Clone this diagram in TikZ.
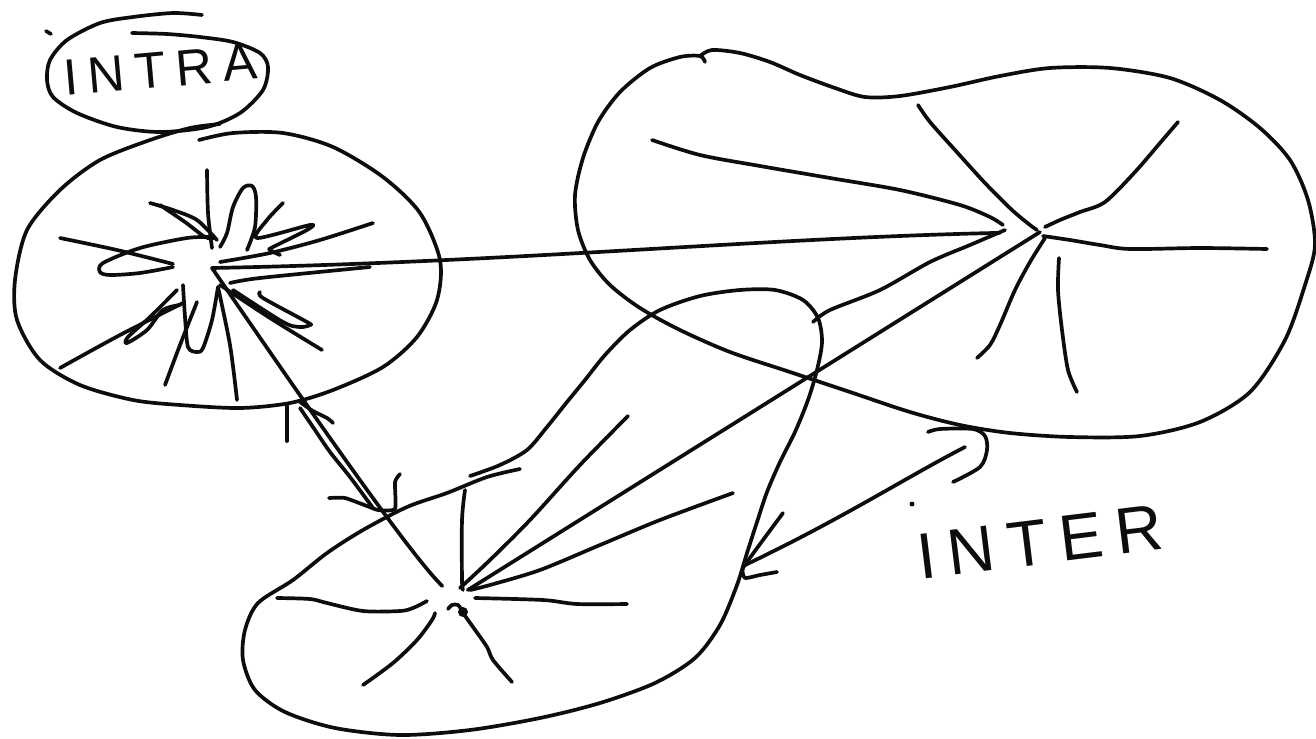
\documentclass[tikz,border=0pt]{standalone}
\usepackage{fontspec}
\usepackage{xcolor}
\usepackage{tikz}
\newfontfamily\handfont[LetterSpace=20]{Liberation Sans}
\definecolor{ink}{HTML}{0D0D0D}
\tikzset{
  pen/.style={draw=ink, line width=2.1pt, line cap=round, line join=round},
  lab/.style={text=ink, inner sep=0pt},
  hub/.style={fill=ink},
}

\begin{document}
\begin{tikzpicture}[x=0.02cm, y=-0.02cm]
  \fill[white] (0,0) rectangle (1316,738);
  \useasboundingbox (0,0) rectangle (1316,738);
  % hubs
  \coordinate (lhub) at (212,268);
  \coordinate (rhub) at (1040,232);
  \coordinate (bhub) at (455,598);
  % labels
  \node[lab, font=\handfont\fontsize{29}{31}\selectfont, rotate=5] (intra) at (160,70) {INTRA};
  \node[lab, font=\handfont\fontsize{37}{40}\selectfont, rotate=7] (inter) at (1040,542) {INTER};
  % outlines
  \draw[pen] plot[smooth] coordinates {(202,15) (173,13) (133,17) (100,23) (67,40) (50,60) (47,80) (53,97) (77,113) (117,127) (160,132) (207,127) (240,113) (263,90) (268,67) (260,53) (233,42) (200,37) (167,34) (132,33)};
  \draw[pen] (46,31) -- (51,34);
  \draw[pen] plot[smooth] coordinates {(199,140) (233,133) (283,133) (333,147) (383,177) (420,213) (440,260) (437,300) (417,337) (383,367) (333,390) (290,403) (240,408) (180,405) (133,400) (80,385) (40,360) (17,320) (15,280) (27,230) (60,190) (100,160) (150,140) (190,128) (220,124)};
  \draw[pen] plot[smooth] coordinates {(705,62) (700,56) (680,57) (650,68) (620,92) (598,122) (583,158) (575,195) (578,230) (590,260) (610,285) (640,308) (680,330) (730,352) (790,372) (850,392) (910,412) (960,425) (1010,433) (1070,437) (1140,436) (1200,422) (1250,392) (1285,340) (1305,285) (1315,245) (1308,200) (1290,160) (1260,128) (1220,100) (1170,78) (1110,68) (1050,68) (1000,76) (950,87) (900,96) (865,97) (835,88) (800,75) (770,62) (740,53) (712,50) (700,56)};
  \draw[pen] plot[smooth] coordinates {(470,476) (500,465) (527,450) (547,427) (567,402) (585,380) (605,355) (630,330) (660,310) (700,296) (740,290) (775,290) (803,300) (818,318) (822,342) (817,370) (808,400) (795,432) (780,462) (767,492) (757,522) (747,553) (737,585) (720,625) (695,658) (655,683) (600,703) (540,718) (470,730) (400,735) (335,728) (285,712) (255,690) (243,660) (245,630) (258,603) (293,580) (327,553) (363,530) (407,507) (447,493) (487,477) (520,469)};
  % connectors between hubs
  \draw[pen, shorten >=0.8cm] (lhub) .. controls (520,262) and (760,238) .. (rhub);
  \draw[pen, shorten >=0.35cm] (lhub) .. controls (330,440) and (415,560) .. (bhub);
  \draw[pen, shorten <=0.3cm] (bhub) -- (rhub);
  \draw[pen] plot[smooth] coordinates {(300,408) (315,430) (330,452) (350,477) (373,508)};
  % left star
  \draw[pen] plot[smooth] coordinates {(207,170) (208,213) (212,248)};
  \draw[pen] plot[smooth] coordinates {(150,203) (173,210) (197,220) (217,240)};
  \draw[pen] plot[smooth] coordinates {(160,205) (185,222) (205,237) (214,238)};
  \draw[pen] plot[smooth] coordinates {(220,247) (227,233) (233,207) (243,188) (252,186) (256,197) (255,227) (247,250)};
  \draw[pen] plot[smooth] coordinates {(283,203) (267,220) (257,238) (310,225) (307,230) (273,247) (270,250) (280,255)};
  \draw[pen] plot[smooth] coordinates {(373,223) (320,240) (270,253) (220,262)};
  \draw[pen] plot[smooth] coordinates {(230,283) (260,278) (370,267)};
  \draw[pen] plot[smooth] coordinates {(260,292) (263,298) (307,322) (310,325) (300,327) (283,322) (233,290)};
  \draw[pen] plot[smooth] coordinates {(60,238) (117,250) (173,264)};
  \draw[pen] plot[smooth] coordinates {(213,237) (187,238) (140,248) (103,263) (100,272) (110,275) (140,273) (173,267)};
  \draw[pen] plot[smooth] coordinates {(183,285) (185,317) (188,347) (197,352) (203,348) (212,320) (218,287)};
  \draw[pen] plot[smooth] coordinates {(180,305) (163,310) (147,330) (127,343) (128,337) (150,317) (177,290)};
  \draw[pen] plot[smooth] coordinates {(60,368) (120,335) (183,303)};
  \draw[pen] plot[smooth] coordinates {(165,385) (180,345) (197,302)};
  \draw[pen] plot[smooth] coordinates {(237,400) (230,345) (218,287)};
  \draw[pen] plot[smooth] coordinates {(322,350) (270,318) (220,285)};
  % marks under the left ellipse
  \draw[pen] (287,405) -- (287,441);
  \draw[pen] plot[smooth] coordinates {(300,402) (313,411) (327,418) (333,423)};
  \draw[pen] plot[smooth, tension=0.3] coordinates {(329,498) (345,498) (367,506) (378,510) (395,509) (395,482) (400,474)};
  % right star
  \draw[pen] plot[smooth] coordinates {(918,105) (930,122) (955,150) (985,183) (1012,210) (1030,225) (1037,230)};
  \draw[pen] plot[smooth] coordinates {(1178,122) (1160,143) (1135,172) (1105,202) (1080,212) (1060,220) (1045,227)};
  \draw[pen] plot[smooth] coordinates {(1043,236) (1070,240) (1100,245) (1130,249) (1200,248) (1267,249)};
  \draw[pen] plot[smooth] coordinates {(1045,238) (1030,262) (1015,290) (1000,325) (990,345) (977,358)};
  \draw[pen] plot[smooth] coordinates {(1059,258) (1058,290) (1062,330) (1068,370) (1077,392)};
  \draw[pen] plot[smooth] coordinates {(652,140) (700,155) (760,166) (830,178) (900,190) (960,205) (990,217) (1003,225)};
  \draw[pen] plot[smooth] coordinates {(813,322) (830,310) (880,290) (930,262) (970,245) (998,233) (1005,230)};
  % bottom star
  \draw[pen] plot[smooth] coordinates {(465,490) (462,520) (462,580) (463,590)};
  \draw[pen] plot[smooth] coordinates {(628,416) (580,465) (530,520) (490,560) (460,588)};
  \draw[pen] plot[smooth] coordinates {(733,493) (660,520) (600,545) (540,570) (490,585) (470,590)};
  \draw[pen] plot[smooth] coordinates {(475,598) (543,600) (577,604) (627,604)};
  \draw[pen] plot[smooth] coordinates {(277,598) (310,599) (327,603) (363,611) (400,611) (413,608) (427,601)};
  \draw[pen] plot[smooth] coordinates {(435,613) (432,620) (417,640) (393,663) (363,685)};
  \draw[pen] plot[smooth] coordinates {(463,613) (473,627) (487,647) (493,660) (512,682)};
  \draw[pen] plot[smooth] coordinates {(448,609) (452,605) (458,605) (463,612)};
  \fill[hub] (463,612) circle (5);
  % INTER arrow
  \coordinate (arrw) at (743,566);
  \coordinate (arre) at (965,447);
  \draw[pen] (arrw) .. controls (840,520) and (905,478) .. (arre);
  \draw[pen] plot[smooth, tension=0.3] coordinates {(783,513) (763,540) (743,568) (745,578) (760,575) (777,572)};
  \draw[pen] plot[smooth] coordinates {(928,432) (940,429) (973,429) (985,436) (987,450) (980,467) (953,482)};
  \fill[hub] (912,504) circle (2.5);
\end{tikzpicture}
\end{document}
